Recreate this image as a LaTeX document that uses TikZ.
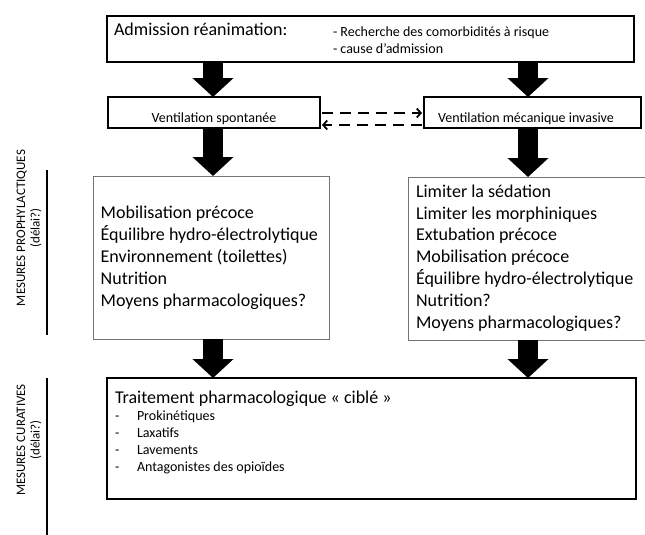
\documentclass[tikz,border=0pt]{standalone}
\usepackage{fontspec}
\setmainfont{Carlito}
\usetikzlibrary{arrows.meta}
\begin{document}
\begin{tikzpicture}[x=1pt,y=-1pt,
  every node/.style={inner sep=0pt, outer sep=0pt},
  thickbox/.style={draw=black, line width=1.8pt},
  thinbox/.style={draw=black!55, line width=1pt},
  fatarrow/.style={line width=20pt, -{Triangle[length=19pt,width=40pt]}},
  dasharr/.style={line width=1.8pt, dash pattern=on 11pt off 7pt, shorten >=2pt, shorten <=2pt, -{Straight Barb[length=4pt,width=9pt]}},
  big/.style={font=\fontsize{18}{21.8}\selectfont, align=left},
  small/.style={font=\fontsize{14}{17}\selectfont, align=left},
  lbl/.style={font=\fontsize{13}{14.5}\selectfont, align=center, rotate=90},
  sideline/.style={line width=1.5pt}]
\useasboundingbox (0,0) rectangle (645,535);

% boxes
\node[thickbox, minimum width=527pt, minimum height=46pt] (top) at (370.5,39) {};
\node[thickbox, minimum width=212pt, minimum height=31pt] (vs) at (214,112.5) {};
\node[thickbox, minimum width=217pt, minimum height=31pt] (vm) at (532.5,112.5) {};
\node[thinbox, minimum width=236pt, minimum height=163pt] (pl) at (211,257.5) {};
\node[thinbox, minimum width=242pt, minimum height=163pt] (pr) at (529,258.5) {};
\node[thickbox, minimum width=529pt, minimum height=121pt] (cur) at (371.5,438.5) {};

% texts (base anchor of a multi-line node = last line's baseline)
\node[big, anchor=base west] (adm) at (114,36) {Admission réanimation:};
\node[small, anchor=base west] (adm2) at (333,53) {- Recherche des comorbidités à risque\\- cause d’admission};
\node[small, anchor=base] (vst) at (214,122.5) {Ventilation spontanée};
\node[small, anchor=base] (vmt) at (526,122.5) {Ventilation mécanique invasive};
\node[big, anchor=base west] (plt) at (100.7,306) {Mobilisation précoce\\Équilibre hydro-électrolytique\\Environnement (toilettes)\\Nutrition\\Moyens pharmacologiques?};
\node[big, anchor=base west] (prt) at (416,328) {Limiter la sédation\\Limiter les morphiniques\\Extubation précoce\\Mobilisation précoce\\Équilibre hydro-électrolytique\\Nutrition?\\Moyens pharmacologiques?};
\node[big, anchor=base west] (curt) at (115,403) {Traitement pharmacologique « ciblé »};
\node[small, anchor=base west] (dashes) at (115,471) {-\\-\\-\\-};
\node[small, anchor=base west] (items) at (137,471) {Prokinétiques\\Laxatifs\\Lavements\\Antagonistes des opioïdes};

% side labels
\node[lbl] (l1) at (29,228) {MESURES PROPHYLACTIQUES\\(délai?)};
\node[lbl] (l2) at (29,440) {MESURES CURATIVES\\(délai?)};
\coordinate (s1a) at (47,170);
\coordinate (s1b) at (47,335);
\coordinate (s2a) at (47,378);
\coordinate (s2b) at (47,535);
\draw[sideline] (s1a) -- (s1b);
\draw[sideline] (s2a) -- (s2b);

% fat arrows
\coordinate (la) at (213,0);
\coordinate (ra) at (528,0);
\draw[fatarrow] (top.south -| la) -- (vs.north -| la);
\draw[fatarrow] (top.south -| ra) -- (vm.north -| ra);
\draw[fatarrow] (vs.south -| la) -- (pl.north -| la);
\draw[fatarrow] (vm.south -| ra) -- (pr.north -| ra);
\draw[fatarrow] (pl.south -| la) -- (cur.north -| la);
\draw[fatarrow] (pr.south -| ra) -- (cur.north -| ra);

% dashed arrows
\coordinate (d1) at (0,113);
\coordinate (d2) at (0,125);
\draw[dasharr] (vs.east |- d1) -- (vm.west |- d1);
\draw[dasharr] (vm.west |- d2) -- (vs.east |- d2);
\end{tikzpicture}
\end{document}
